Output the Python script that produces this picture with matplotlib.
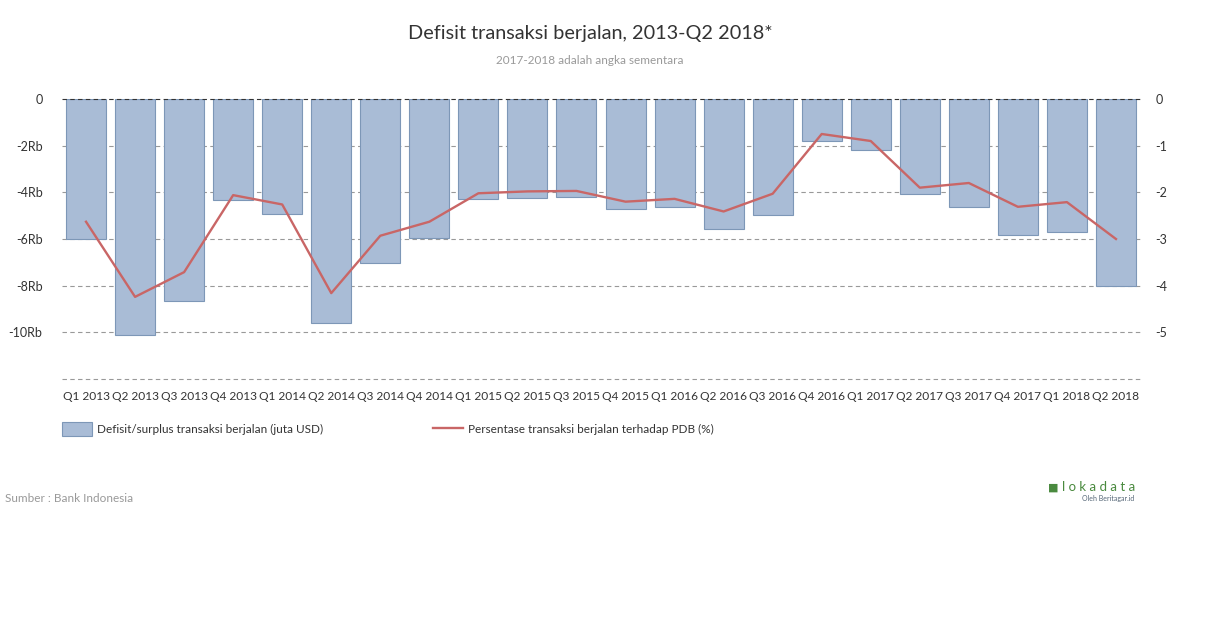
import matplotlib
matplotlib.use("Agg")
import matplotlib.pyplot as plt
from matplotlib.patches import Patch
from matplotlib.lines import Line2D

plt.rcParams['font.family'] = ['Lato', 'DejaVu Sans']

categories = ["Q1 2013", "Q2 2013", "Q3 2013", "Q4 2013", "Q1 2014", "Q2 2014",
              "Q3 2014", "Q4 2014", "Q1 2015", "Q2 2015", "Q3 2015", "Q4 2015",
              "Q1 2016", "Q2 2016", "Q3 2016", "Q4 2016", "Q1 2017", "Q2 2017",
              "Q3 2017", "Q4 2017", "Q1 2018", "Q2 2018"]
# current account (billion USD; Rb = ribu juta)
deficit = [-6.0, -10.1, -8.65, -4.33, -4.93, -9.6, -7.03, -5.95, -4.3, -4.26,
           -4.22, -4.7, -4.62, -5.57, -4.98, -1.8, -2.19, -4.06, -4.63, -5.84,
           -5.72, -8.02]
# percent of GDP
pct = [-2.63, -4.24, -3.71, -2.06, -2.26, -4.16, -2.93, -2.63, -2.02, -1.98,
       -1.97, -2.2, -2.14, -2.41, -2.03, -0.75, -0.9, -1.9, -1.8, -2.31,
       -2.21, -3.0]

left_ticks = [0, -2, -4, -6, -8, -10, -12]
left_labels = ["0", "-2Rb", "-4Rb", "-6Rb", "-8Rb", "-10Rb", ""]
right_ticks = [0, -1, -2, -3, -4, -5, -6]
right_labels = ["0", "-1", "-2", "-3", "-4", "-5", ""]

bar_color = "#a9bcd6"
bar_edge = "#7d97b7"
line_color = "#c96666"
txt = "#333333"

fig = plt.figure(figsize=(12.1, 6.28), dpi=100)
ax = fig.add_axes([62/1210, 1-379/628, (1140-62)/1210, (379-99)/628])
x = list(range(len(categories)))
ax.bar(x, deficit, width=0.815, color=bar_color, edgecolor=bar_edge, linewidth=0.8, zorder=2)
ax.set_xlim(-0.49, len(categories) - 1 + 0.49)
ax.set_ylim(-12, 0)
ax.set_yticks(left_ticks)
ax.set_yticklabels(left_labels)
ax.set_xticks(x)
ax.set_xticklabels(categories)
for s in ax.spines.values():
    s.set_visible(False)
ax.tick_params(axis='y', length=0, pad=14, labelsize=9, labelcolor=txt)
ax.tick_params(axis='x', length=0, pad=9, labelsize=8.6, labelcolor=txt)
for t in left_ticks:
    if t == 0:
        ax.axhline(t, color="#333333", lw=0.8, ls=(0, (4, 3)), zorder=3, clip_on=False)
    else:
        ax.axhline(t, color="#999999", lw=0.8, ls=(0, (4, 3)), zorder=1, clip_on=False)

ax2 = ax.twinx()
ax2.plot(x, pct, color=line_color, lw=1.7, zorder=4)
ax2.set_ylim(-6, 0)
ax2.set_yticks(right_ticks)
ax2.set_yticklabels(right_labels)
for lab in ax2.get_yticklabels():
    lab.set_horizontalalignment('left')
for s in ax2.spines.values():
    s.set_visible(False)
ax2.tick_params(axis='y', length=0, pad=11, labelsize=9, labelcolor=txt)
ax2.set_xlim(ax.get_xlim())

fig.text(590/1210, 1-33/628, "Defisit transaksi berjalan, 2013-Q2 2018*", ha='center', va='center',
         fontsize=14.3, color=txt)
fig.text(590/1210, 1-61/628, "2017-2018 adalah angka sementara", ha='center', va='center',
         fontsize=8.5, color="#999999")

handles = [Patch(facecolor=bar_color, edgecolor=bar_edge, linewidth=0.8),
           Line2D([0], [0], color=line_color, lw=1.7)]
labels = ["Defisit/surplus transaksi berjalan (juta USD)",
          "Persentase transaksi berjalan terhadap PDB (%)"]
leg1 = fig.legend([handles[0]], [labels[0]], loc='center left',
                  bbox_to_anchor=(51/1210, 1-429/628), frameon=False, fontsize=8.5,
                  handlelength=2.6, handleheight=1.5, handletextpad=0.4)
for t in leg1.get_texts():
    t.set_color(txt)
leg2 = fig.legend([handles[1]], [labels[1]], loc='center left',
                  bbox_to_anchor=(422/1210, 1-429/628), frameon=False, fontsize=8.5,
                  handlelength=2.6, handletextpad=0.4)
for t in leg2.get_texts():
    t.set_color(txt)

fig.text(5/1210, 1-498/628, "Sumber : Bank Indonesia", ha='left', va='center',
         fontsize=8.5, color="#999999")
fig.text(1062/1210, 1-487/628, "l o k a d a t a", ha='left', va='center', fontsize=9.5,
         color="#4a8a3f")
fig.text(1058/1210, 1-487/628, "\u25A0", ha='right', va='center', fontsize=8,
         color="#4a8a3f")
fig.text(1134/1210, 1-498/628, "Oleh Beritagar.id", ha='right', va='center', fontsize=5,
         color="#556677")

fig.savefig("out.png", dpi=100)
